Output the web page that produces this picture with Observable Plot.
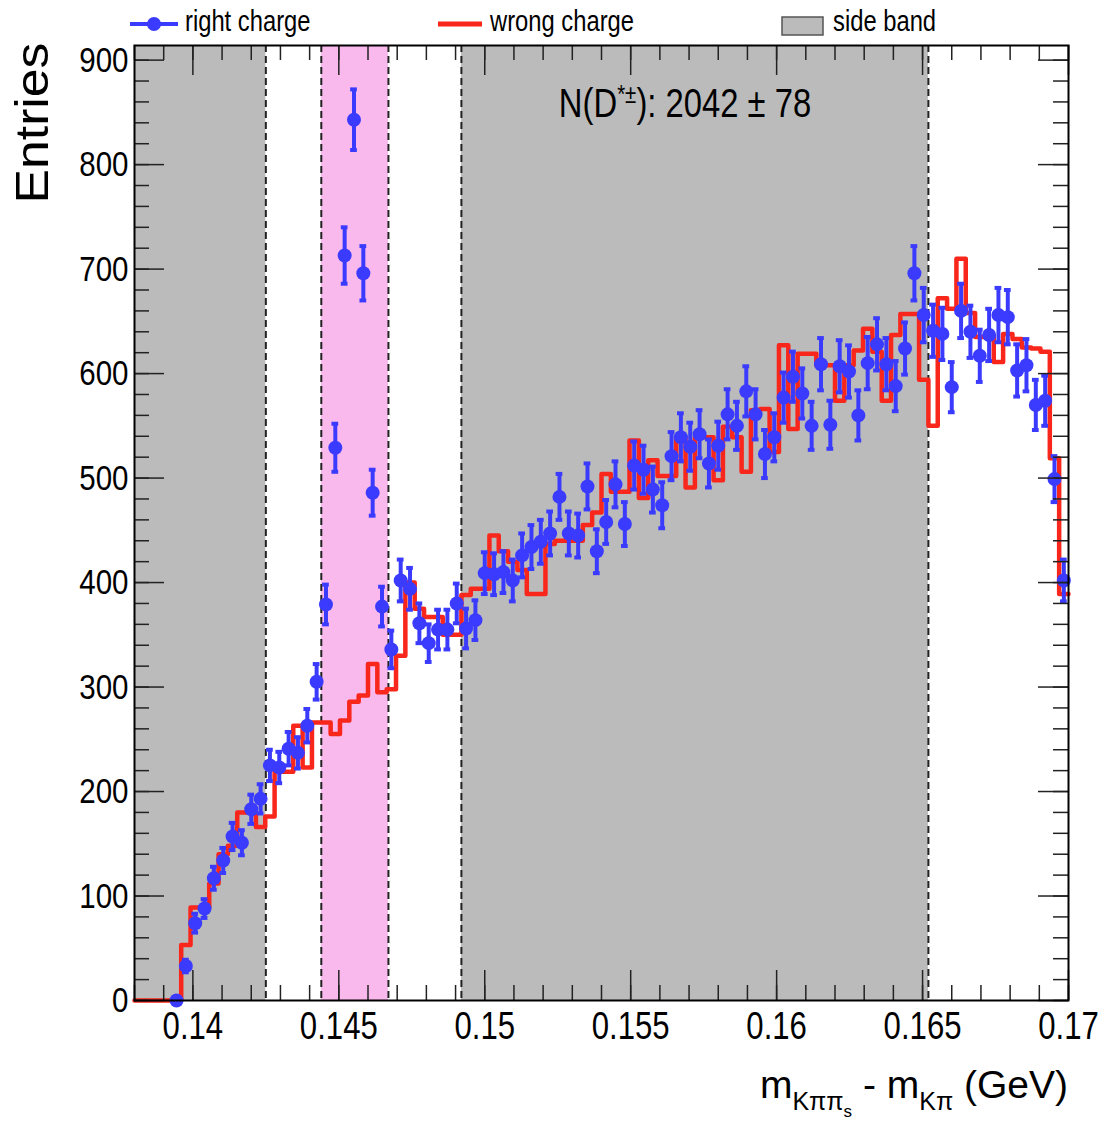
<!DOCTYPE html>
<html><head><meta charset="utf-8">
<script src="https://cdn.jsdelivr.net/npm/d3@7"></script>
<script src="https://cdn.jsdelivr.net/npm/@observablehq/plot@0.6"></script>
<style>
body{margin:0;background:#fff;}
#chart{width:1102px;height:1121px;}
</style></head><body><div id="chart"></div>
<script>
// Histogram axis definition
const xMin = 0.138, xMax = 0.17, nBins = 100;
const yMax = 914;
const firstPointBin = 4;

// right charge (data points, bins 4..99)
const rightCharge = [0,33,74,88,117,134,157,151,183,193,225,223,241,237,263,305,379,529,713,843,
696,486,377,336,402,394,361,342,355,355,380,356,364,409,408,410,402,426,434,439,
447,482,447,445,492,430,458,494,456,512,508,489,474,521,539,530,542,514,531,561,
550,583,561,523,539,577,597,581,550,609,551,607,602,560,610,628,609,588,624,696,
656,641,638,587,660,640,617,637,656,654,603,608,570,574,499,402];
const rightErr = [0,6,9,9,11,12,13,12,14,14,15,15,16,15,16,17,19,23,27,29,
26,22,19,18,20,20,19,18,19,19,19,19,19,20,20,20,20,21,21,21,
21,22,21,21,22,21,21,22,21,23,23,22,22,23,23,23,23,23,23,24,
23,24,24,23,23,24,24,24,23,25,23,25,25,24,25,25,25,24,25,26,
26,25,25,24,26,25,25,25,26,26,25,25,24,24,22,20];
// wrong charge (step histogram, bins 0..99)
const wrongCharge = [0,0,0,0,0,53,89,89,112,140,148,180,180,166,176,219,219,263,223,266,
266,255,268,286,292,322,295,298,330,400,375,367,367,350,350,388,394,394,445,430,
420,412,389,389,437,440,440,440,455,467,504,487,487,536,481,517,502,502,539,491,
539,539,498,549,539,506,565,566,525,627,547,619,619,608,608,574,608,622,643,621,
574,637,657,657,594,550,672,662,710,658,635,635,611,638,633,625,624,621,519,389];

const sideBands = [[0.138, 0.1425], [0.1492, 0.1652]];
const signalBand = [[0.1444, 0.1467]];
const bandEdges = [0.1425, 0.1444, 0.1467, 0.1492, 0.1652];

const xTicks = [0.14, 0.145, 0.15, 0.155, 0.16, 0.165, 0.17];
const xTickLabels = ["0.14", "0.145", "0.15", "0.155", "0.16", "0.165", "0.17"];
const yTicks = [0, 100, 200, 300, 400, 500, 600, 700, 800, 900];
const xMinorTicks = d3.range(138, 171).map(v => v / 1000);
const yMinorTicks = d3.range(0, 901, 20);

const W = 1102, H = 1121, mL = 134, mR = 34, mT = 45, mB = 121;
const innerW = W - mL - mR, innerH = H - mT - mB;
const binW = (xMax - xMin) / nBins;
const BLUE = "#3b3bff", RED = "#f8261b";
const SANS = "'Liberation Sans', Arial, Helvetica, sans-serif";
const NARROW_SCALE = 0.82;

const points = rightCharge.map((v, k) => {
  const b = k + firstPointBin;
  return {x: xMin + (b + 0.5) * binW, lo: xMin + b * binW, hi: xMin + (b + 1) * binW, y: v, e: rightErr[k]};
});
const steps = wrongCharge.map((v, i) => ({x: xMin + i * binW, y: v}));
steps.push({x: xMax, y: wrongCharge[nBins - 1]});
const capped = points.filter(d => d.e > 0);

const plot = Plot.plot({
  width: W, height: H,
  marginLeft: mL, marginRight: mR, marginTop: mT, marginBottom: mB,
  x: {domain: [xMin, xMax], label: null},
  y: {domain: [0, yMax], label: null},
  style: {fontFamily: SANS, fontSize: "36px", color: "#000", background: "#fff", overflow: "visible"},
  marks: [
    Plot.rect(sideBands, {x1: d => d[0], x2: d => d[1], y1: 0, y2: yMax, fill: "#bbbbbb"}),
    Plot.rect(signalBand, {x1: d => d[0], x2: d => d[1], y1: 0, y2: yMax, fill: "#f9b9ec"}),
    Plot.ruleX(bandEdges, {x: d => d, stroke: "#222", strokeWidth: 2, strokeDasharray: "7,4"}),
    Plot.line(steps, {x: "x", y: "y", curve: "step-after", stroke: RED, strokeWidth: 4.5}),
    Plot.ruleX(points, {x: "x", y1: d => d.y - d.e, y2: d => d.y + d.e, stroke: BLUE, strokeWidth: 4}),
    Plot.ruleY(capped, {y: d => d.y + d.e, x1: "lo", x2: "hi", insetLeft: 1.3, insetRight: 1.3, stroke: BLUE, strokeWidth: 4}),
    Plot.ruleY(capped, {y: d => d.y - d.e, x1: "lo", x2: "hi", insetLeft: 1.3, insetRight: 1.3, stroke: BLUE, strokeWidth: 4}),
    Plot.dot(points, {x: "x", y: "y", r: 7, fill: BLUE}),
    // inward ticks on all four sides
    Plot.tickX(xMinorTicks, {x: d => d, insetTop: innerH - 15, stroke: "#222", strokeWidth: 1.5}),
    Plot.tickX(xTicks, {x: d => d, insetTop: innerH - 30, stroke: "#222", strokeWidth: 1.5}),
    Plot.tickX(xMinorTicks, {x: d => d, insetBottom: innerH - 15, stroke: "#222", strokeWidth: 1.5}),
    Plot.tickX(xTicks, {x: d => d, insetBottom: innerH - 30, stroke: "#222", strokeWidth: 1.5}),
    Plot.tickY(yMinorTicks, {y: d => d, insetRight: innerW - 15, stroke: "#222", strokeWidth: 1.5}),
    Plot.tickY(yTicks, {y: d => d, insetRight: innerW - 30, stroke: "#222", strokeWidth: 1.5}),
    Plot.tickY(yMinorTicks, {y: d => d, insetLeft: innerW - 15, stroke: "#222", strokeWidth: 1.5}),
    Plot.tickY(yTicks, {y: d => d, insetLeft: innerW - 30, stroke: "#222", strokeWidth: 1.5}),
    Plot.frame({stroke: "#000", strokeWidth: 2}),
    Plot.axisX({ticks: xTicks, tickSize: 0, tickPadding: 12, tickFormat: (d, i) => xTickLabels[i], fontSize: 38, label: null}),
    Plot.axisY({ticks: yTicks, tickSize: 0, tickPadding: 6, fontSize: 36, label: null})
  ]
});
document.getElementById("chart").appendChild(plot);

const svg = d3.select(plot);

// condense tick labels (ROOT uses a narrow Helvetica)
svg.selectAll('g[aria-label="x-axis tick label"] text, g[aria-label="y-axis tick label"] text').each(function () {
  const t = this.getAttribute("transform");
  if (t) {
    this.setAttribute("transform", t + ` scale(${NARROW_SCALE},1)`);
  } else {
    const x = +this.getAttribute("x") || 0, y = +this.getAttribute("y") || 0;
    this.removeAttribute("x"); this.removeAttribute("y");
    this.setAttribute("transform", `translate(${x},${y}) scale(${NARROW_SCALE},1)`);
  }
});

const g = svg.append("g").attr("fill", "#000").attr("font-family", SANS);
function narrow(x, y, anchor, size) {
  return g.append("g").attr("transform", `translate(${x},${y}) scale(${NARROW_SCALE},1)`)
    .append("text").attr("text-anchor", anchor).attr("font-size", size);
}

// y title
g.append("text").attr("transform", "translate(48,123) rotate(-90) scale(1.1,1)")
  .attr("text-anchor", "middle").attr("font-size", 47).text("Entries");

// x title
const xt = g.append("text").attr("x", 1068).attr("y", 1098).attr("text-anchor", "end").attr("font-size", 39);
xt.append("tspan").text("m");
xt.append("tspan").attr("font-size", 25).attr("dy", 12).text("Kππ");
xt.append("tspan").attr("font-size", 17).attr("dy", 7).text("s");
xt.append("tspan").attr("dy", -19).text(" - m");
xt.append("tspan").attr("font-size", 25).attr("dy", 12).text("Kπ");
xt.append("tspan").attr("dy", -12).text(" (GeV)");

// annotation
const an = narrow(685, 117, "middle", 40);
an.append("tspan").text("N(D");
an.append("tspan").attr("font-size", 25).attr("dy", -14).text("*±");
an.append("tspan").attr("dy", 14).text("): 2042 ± 78");

// legend
g.append("line").attr("x1", 130).attr("x2", 178).attr("y1", 24).attr("y2", 24).attr("stroke", BLUE).attr("stroke-width", 4);
g.append("circle").attr("cx", 154).attr("cy", 24).attr("r", 7).attr("fill", BLUE);
narrow(185, 31, "start", 29).text("right charge");
g.append("line").attr("x1", 438).attr("x2", 482).attr("y1", 24).attr("y2", 24).attr("stroke", RED).attr("stroke-width", 5);
narrow(490, 31, "start", 29).text("wrong charge");
g.append("rect").attr("x", 782).attr("y", 17).attr("width", 41).attr("height", 18).attr("fill", "#bbbbbb").attr("stroke", "#555").attr("stroke-width", 1.5);
narrow(833, 31, "start", 29).text("side band");
</script></body></html>
